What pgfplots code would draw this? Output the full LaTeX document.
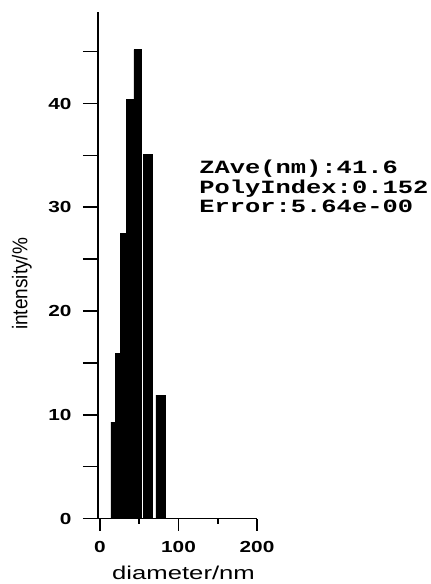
\documentclass[border=0pt]{standalone}
\usepackage{fontspec}
\setmainfont{Liberation Sans}
\newfontfamily\tickfont[FakeStretch=1.3]{Liberation Sans}
\newfontfamily\labfont[FakeStretch=1.38]{Liberation Sans}
\newfontfamily\anfont[FakeStretch=1.36]{Liberation Mono}
\usepackage{pgfplots}
\pgfplotsset{compat=1.18}
\pgfplotsset{
  common/.style={
    scale only axis,
    width=159pt, height=506.8pt,
    xmin=-2.5, xmax=200, ymin=0, ymax=48.85,
    axis line style={line width=1.6pt},
    tick align=outside,
    tick style={line width=1.6pt, black},
    /pgf/number format/assume math mode=true,
    ticklabel style={font=\tickfont\bfseries\fontsize{16}{16}\selectfont},
    clip=false,
  }
}
\begin{document}
\begin{tikzpicture}
\path[use as bounding box] (-98pt,-65.5pt) rectangle (333pt,518.5pt);
\begin{axis}[
  common,
  axis x line*=bottom, axis y line*=left,
  xtick=\empty,
  ytick={0,10,20,30,40}, minor ytick={5,15,25,35,45},
  major tick length=15pt, minor tick length=15pt,
  yticklabel style={xshift=-8pt},
  xlabel={diameter/nm},
  ylabel={\scalebox{1}[1.12]{intensity/\%}},
  xlabel style={font=\labfont\fontsize{18.6}{20}\selectfont, at={(axis description cs:0.538,-0.1213)}, anchor=base, inner sep=0pt},
  ylabel style={font=\fontsize{19}{20}\selectfont, at={(axis description cs:-0.478,0.463)}, anchor=center, inner sep=0pt},
]
\addplot[const plot, fill=black, draw=black, line width=0.4pt] coordinates {
  (14,9.3) (20,15.9) (26.4,27.5) (34,40.4) (43.3,45.2) (53,0)
  (55.2,35.1) (67.1,0) (71.3,11.9) (83.7,11.9)
} \closedcycle;
\node[anchor=base west, inner sep=0pt, font=\anfont\bfseries\fontsize{18.7}{20}\selectfont] at (axis cs:126.4,33.3) {ZAve(nm):41.6};
\node[anchor=base west, inner sep=0pt, font=\anfont\bfseries\fontsize{18.7}{20}\selectfont] at (axis cs:126.4,31.35) {PolyIndex:0.152};
\node[anchor=base west, inner sep=0pt, font=\anfont\bfseries\fontsize{18.7}{20}\selectfont] at (axis cs:126.4,29.45) {Error:5.64e-00};
\end{axis}
\begin{axis}[
  common,
  axis x line*=bottom, axis y line=none,
  ytick=\empty,
  xtick={0,100,200}, minor xtick={50,150},
  major tick length=12pt, minor tick length=5pt,
  xticklabel style={yshift=-7pt},
]
\end{axis}
\end{tikzpicture}
\end{document}
